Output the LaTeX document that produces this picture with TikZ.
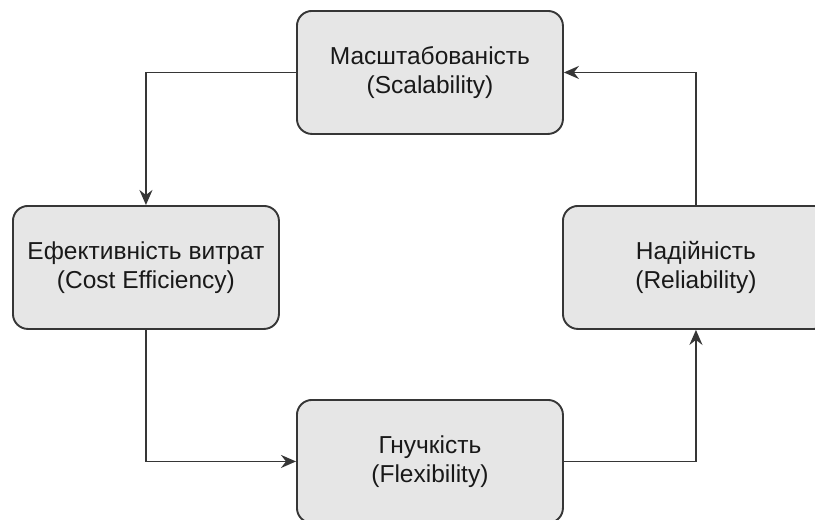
\documentclass[tikz,border=0pt]{standalone}
\usepackage{fontspec}
\setmainfont{Liberation Sans}
\usetikzlibrary{arrows.meta}
\definecolor{boxgray}{HTML}{E6E6E6}
\definecolor{edgegray}{HTML}{363636}
\begin{document}
\begin{tikzpicture}[x=1pt,y=-1pt,
  box/.style={draw=edgegray, fill=boxgray, line width=1.9pt, rounded corners=15pt,
    minimum width=266pt, minimum height=123pt, align=center, inner sep=0pt,
    anchor=north west, text=black!90, font=\fontsize{24.5}{29}\selectfont},
  conn/.style={draw=edgegray, line width=1.9pt, -{Stealth[length=15pt,width=13pt,inset=5pt]}}]
\useasboundingbox (0,0) rectangle (815,520);
\node[box] (top) at (296,10) {Масштабованість\\(Scalability)};
\node[box] (left) at (12,205) {Ефективність витрат\\(Cost Efficiency)};
\node[box] (right) at (562,205) {Надійність\\(Reliability)};
\node[box] (bottom) at (296,399) {Гнучкість\\(Flexibility)};
\draw[conn] (top.west) -| (left.north);
\draw[conn] (left.south) |- (bottom.west);
\draw[conn] (bottom.east) -| (right.south);
\draw[conn] (right.north) |- (top.east);
\end{tikzpicture}
\end{document}
